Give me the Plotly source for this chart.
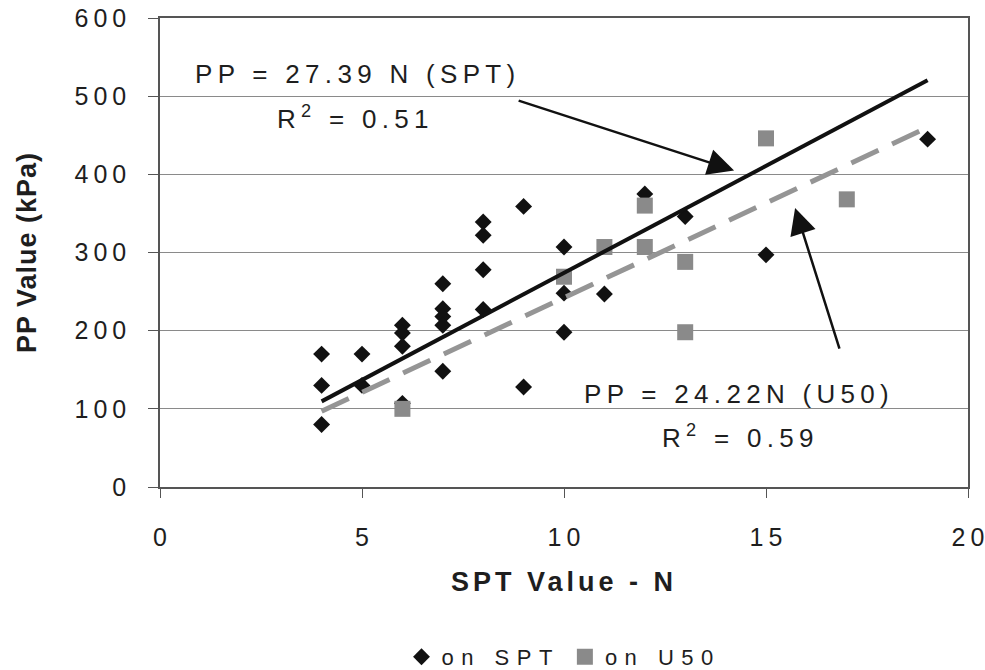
import plotly.graph_objects as go

# ---- data ----
spt_n = [4, 4, 4, 5, 5, 6, 6, 6, 6, 7, 7, 7, 7, 7, 8, 8, 8, 8, 9, 9, 10, 10, 10, 11, 12, 13, 15, 19]
spt_pp = [170, 130, 80, 170, 130, 207, 197, 180, 107, 260, 228, 218, 207, 148, 339, 322, 278, 227,
          359, 128, 307, 248, 198, 247, 375, 346, 297, 445]

u50_n = [6, 10, 11, 12, 12, 13, 13, 15, 17]
u50_pp = [100, 269, 307, 360, 307, 288, 198, 446, 368]

slope_spt = 27.39
slope_u50 = 24.22
r2_spt = 0.51
r2_u50 = 0.59

x_ticks = [0, 5, 10, 15, 20]
y_ticks = [0, 100, 200, 300, 400, 500, 600]

FONT = "Liberation Sans, Arial, sans-serif"
INK = "#1e1e1e"


def spaced(s, px):
    return '<span style="letter-spacing:%gpx">%s</span>' % (px, s)


def spaced_tick(s, px):
    # letter spacing between characters only (no trailing space after the last one)
    if len(s) < 2:
        return s
    return spaced(s[:-1], px) + s[-1]


line_x = [min(spt_n), max(spt_n)]

fig = go.Figure()
fig.add_trace(go.Scatter(
    x=spt_n, y=spt_pp, mode="markers", name=spaced("on SPT", 7.5),
    marker=dict(symbol="diamond", size=13, color="#111111", line=dict(width=0)),
))
fig.add_trace(go.Scatter(
    x=u50_n, y=u50_pp, mode="markers", name=spaced("on U50", 7.5),
    marker=dict(symbol="square", size=16, color="#8a8a8a", line=dict(width=0)),
))
fig.add_trace(go.Scatter(
    x=line_x, y=[slope_spt * v for v in line_x], mode="lines", showlegend=False,
    line=dict(color="#111111", width=4), hoverinfo="skip",
))
fig.add_trace(go.Scatter(
    x=line_x, y=[slope_u50 * v for v in line_x], mode="lines", showlegend=False,
    line=dict(color="#959595", width=5, dash="30px,15px"), hoverinfo="skip",
))

tick_font = dict(family=FONT, size=25, color=INK)
fig.update_xaxes(
    range=[0, 20], tickvals=x_ticks, ticktext=[spaced_tick(str(v), 5) for v in x_ticks],
    showgrid=False, zeroline=False, showline=True, linecolor="#555555", linewidth=1.5,
    mirror=True, ticks="outside", ticklen=9, tickcolor="#555555", tickwidth=1.2,
    tickfont=tick_font, ticklabelstandoff=18, automargin=False, ticklabeloverflow="allow",
    title=dict(text=spaced("<b>SPT Value - N</b>", 4),
               font=dict(family=FONT, size=27, color=INK), standoff=22),
)
fig.update_yaxes(
    range=[0, 600], tickvals=y_ticks, ticktext=[spaced_tick(str(v), 5) for v in y_ticks],
    showgrid=True, gridcolor="#8a8a8a", gridwidth=1, zeroline=False,
    showline=True, linecolor="#555555", linewidth=1.5, mirror=True,
    ticks="outside", ticklen=10, tickcolor="#555555", tickwidth=1.2,
    tickfont=tick_font, ticklabelstandoff=17, automargin=False, ticklabeloverflow="allow",
    title=dict(text=spaced("<b>PP Value (kPa)</b>", 1),
               font=dict(family=FONT, size=27, color=INK), standoff=30),
)

ann_font = dict(family=FONT, size=26, color=INK)
annotations = [
    dict(x=4.90, y=528, text=spaced("PP = %.2f N (SPT)" % slope_spt, 5.3)),
    dict(x=4.83, y=473, text=spaced("R<sup>2</sup> = %.2f" % r2_spt, 5.3)),
    dict(x=14.33, y=119, text=spaced("PP = %.2fN (U50)" % slope_u50, 5.3)),
    dict(x=14.38, y=64, text=spaced("R<sup>2</sup> = %.2f" % r2_u50, 5.3)),
]
for a in annotations:
    a.update(xref="x", yref="y", showarrow=False, font=ann_font,
             xanchor="center", yanchor="middle")

arrows = [
    dict(x=14.21, y=405, ax=8.84, ay=495),
    dict(x=15.72, y=357, ax=16.83, ay=175),
]
for a in arrows:
    a.update(xref="x", yref="y", axref="x", ayref="y", text="", showarrow=True,
             arrowhead=2, arrowsize=2.1, arrowwidth=2.5, arrowcolor="#111111",
             standoff=0, startstandoff=0)

fig.update_layout(
    width=985, height=670,
    margin=dict(l=160, r=17, t=18, b=183, autoexpand=False),
    paper_bgcolor="white", plot_bgcolor="white",
    font=dict(family=FONT, color=INK),
    showlegend=True,
    legend=dict(orientation="h", x=0.5, xanchor="center", y=-0.3625, yanchor="middle",
                font=dict(family=FONT, size=22, color=INK), itemwidth=30,
                bgcolor="rgba(0,0,0,0)"),
    annotations=annotations + arrows,
)

fig.write_html("out.html")
